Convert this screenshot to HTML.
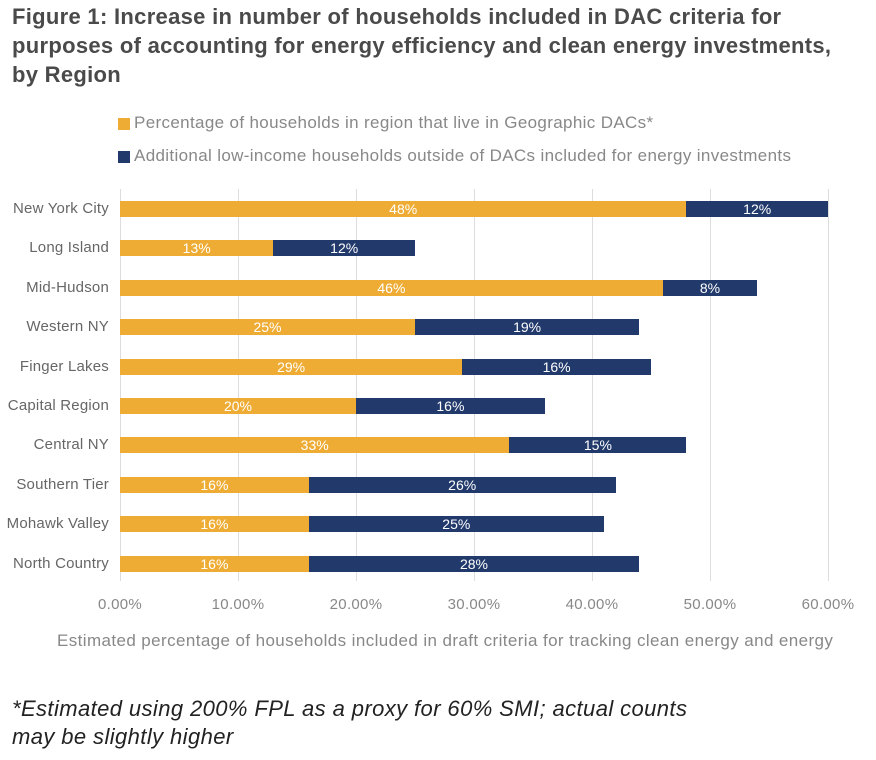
<!DOCTYPE html><html><head><style>
body{margin:0;width:876px;height:760px;background:#fff;font-family:"Liberation Sans",sans-serif;position:relative;overflow:hidden}
.a{position:absolute;white-space:nowrap}
h1{position:absolute;left:12px;top:2px;margin:0;font-size:22px;line-height:29px;font-weight:bold;color:#4a4a4a;letter-spacing:0.3px;white-space:nowrap}
.g{position:absolute;top:189px;height:392px;width:1px;background:#ddd}
.lab{position:absolute;right:767px;font-size:15px;color:#666;text-align:right;letter-spacing:0.2px}
.bar{position:absolute;height:16px;color:#fff;font-size:14px;line-height:16px;text-align:center}
.o{background:#EEAC35}.n{background:#223A6B}
.t{position:absolute;top:596px;font-size:15px;color:#888;width:90px;text-align:center;letter-spacing:0.3px}
</style></head><body>
<h1>Figure 1: Increase in number of households included in DAC criteria for<br>purposes of accounting for energy efficiency and clean energy investments,<br>by Region</h1>
<div class="a" style="left:118px;top:118px;width:12px;height:12px;background:#EEAC35"></div>
<div class="a" style="left:134px;top:113px;font-size:17px;color:#888;letter-spacing:0.35px">Percentage of households in region that live in Geographic DACs*</div>
<div class="a" style="left:118px;top:151px;width:12px;height:12px;background:#223A6B"></div>
<div class="a" style="left:134px;top:146px;font-size:17px;color:#888;letter-spacing:0.35px">Additional low-income households outside of DACs included for energy investments</div>
<div class="g" style="left:120px"></div><div class="g" style="left:238px"></div><div class="g" style="left:356px"></div><div class="g" style="left:474px"></div><div class="g" style="left:592px"></div><div class="g" style="left:710px"></div><div class="g" style="left:828px"></div>
<div id="c"></div>
<div class="t" style="left:75px">0.00%</div><div class="t" style="left:193px">10.00%</div><div class="t" style="left:311px">20.00%</div><div class="t" style="left:429px">30.00%</div><div class="t" style="left:547px">40.00%</div><div class="t" style="left:665px">50.00%</div><div class="t" style="left:783px">60.00%</div>
<div class="a" style="left:57px;top:631px;font-size:17px;color:#888;letter-spacing:0.4px">Estimated percentage of households included in draft criteria for tracking clean energy and energy</div>
<div class="a" style="left:12px;top:695px;font-size:22px;line-height:28px;font-style:italic;color:#222;letter-spacing:0.4px">*Estimated using 200% FPL as a proxy for 60% SMI; actual counts<br>may be slightly higher</div>
<script>
var d=[["New York City",48,12],["Long Island",13,12],["Mid-Hudson",46,8],["Western NY",25,19],["Finger Lakes",29,16],["Capital Region",20,16],["Central NY",33,15],["Southern Tier",16,26],["Mohawk Valley",16,25],["North Country",16,28]];
var h="",s=11.8;
d.forEach(function(r,i){var y=201+i*39.4;
h+='<div class="lab" style="top:'+(y-1)+'px">'+r[0]+'</div>';
h+='<div class="bar o" style="left:120px;top:'+y+'px;width:'+(r[1]*s)+'px">'+r[1]+'%</div>';
h+='<div class="bar n" style="left:'+(120+r[1]*s)+'px;top:'+y+'px;width:'+(r[2]*s)+'px">'+r[2]+'%</div>';});
document.getElementById("c").innerHTML=h;
</script>
</body></html>
